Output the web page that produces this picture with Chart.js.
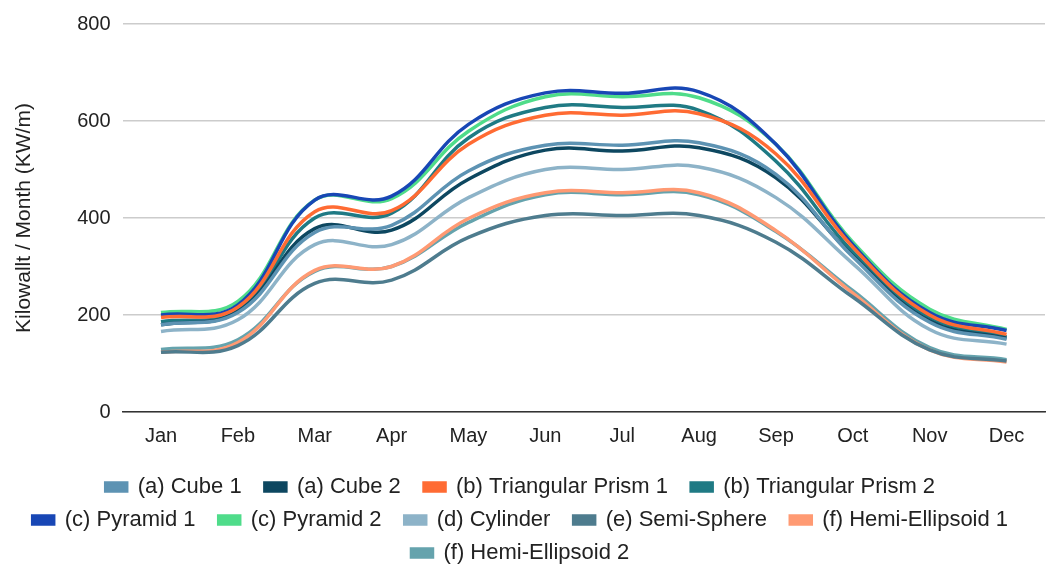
<!DOCTYPE html>
<html>
<head>
<meta charset="utf-8">
<script src="https://cdn.jsdelivr.net/npm/chart.js@4"></script>
<style>
  html, body { margin: 0; padding: 0; background: #fff; }
  #wrap { width: 1046px; height: 565px; }
</style>
</head>
<body>
<div id="wrap"><canvas id="chart"></canvas></div>
<script>
const months = ['Jan', 'Feb', 'Mar', 'Apr', 'May', 'Jun', 'Jul', 'Aug', 'Sep', 'Oct', 'Nov', 'Dec'];

const cube1 = [180, 205, 370, 385, 497, 550, 550, 555, 490, 320, 185, 150];
const cube2 = [180, 207, 378, 375, 480, 540, 538, 545, 483, 322, 188, 152];
const triPrism1 = [195, 216, 413, 415, 552, 612, 612, 615, 532, 340, 200, 160];
const triPrism2 = [186, 210, 400, 410, 565, 628, 628, 622, 517, 330, 195, 155];
const pyramid1 = [200, 221, 437, 445, 593, 658, 657, 660, 552, 345, 205, 168];
const pyramid2 = [205, 228, 437, 440, 579, 650, 650, 648, 552, 350, 212, 170];
const cylinder = [166, 190, 345, 345, 442, 500, 500, 505, 442, 306, 170, 140];
const semiSphere = [123, 137, 265, 272, 360, 405, 405, 405, 350, 237, 128, 105];
const hemiEllipsoid1 = [123, 143, 292, 300, 399, 452, 452, 452, 374, 245, 128, 103];
const hemiEllipsoid2 = [129, 149, 290, 300, 391, 448, 448, 448, 372, 250, 133, 108];

const series = [
  ['(a) Cube 1', cube1, '#5d93b3'],
  ['(a) Cube 2', cube2, '#0d4760'],
  ['(b) Triangular Prism 1', triPrism1, '#ff6b33'],
  ['(b) Triangular Prism 2', triPrism2, '#1f7a84'],
  ['(c) Pyramid 1', pyramid1, '#1847b5'],
  ['(c) Pyramid 2', pyramid2, '#4fdc8a'],
  ['(d) Cylinder', cylinder, '#8db3c8'],
  ['(e) Semi-Sphere', semiSphere, '#4e7c8e'],
  ['(f) Hemi-Ellipsoid 1', hemiEllipsoid1, '#ff9a73'],
  ['(f) Hemi-Ellipsoid 2', hemiEllipsoid2, '#65a3ad']
];

Chart.defaults.font.family = '"Liberation Sans", Arial, sans-serif';
Chart.defaults.color = '#222';

new Chart(document.getElementById('chart'), {
  type: 'line',
  data: {
    labels: months,
    datasets: series.map(([label, data, color]) => ({
      label,
      data,
      borderColor: color,
      backgroundColor: color,
      borderWidth: 3.5,
      pointRadius: 0,
      tension: 0.4,
      fill: false
    }))
  },
  options: {
    responsive: true,
    maintainAspectRatio: false,
    animation: false,
    layout: { padding: { top: 10, right: 1, left: 8, bottom: -9 } },
    plugins: {
      legend: {
        position: 'bottom',
        labels: {
          font: { size: 22 },
          boxWidth: 21,
          boxHeight: 8,
          padding: 11,
          // a little extra room after each label, like the original legend spacing
          generateLabels: chart => Chart.defaults.plugins.legend.labels.generateLabels(chart)
            .map(item => ({ ...item, text: item.text + '  ' }))
        }
      },
      tooltip: { enabled: false }
    },
    scales: {
      x: {
        offset: true,
        grid: { display: false, drawTicks: false },
        border: { color: '#333', width: 1.5 },
        ticks: { font: { size: 20 }, padding: 12 },
        afterFit: scale => { scale.height += 5; }
      },
      y: {
        min: 0,
        max: 800,
        grid: { color: '#ccc', lineWidth: 1.5, drawTicks: false },
        border: { display: false },
        ticks: { stepSize: 200, font: { size: 20 }, padding: 12 },
        title: { display: true, text: 'Kilowallt / Month (KW/m)', font: { size: 21 }, padding: { bottom: 28 } }
      }
    }
  }
});
</script>
</body>
</html>
